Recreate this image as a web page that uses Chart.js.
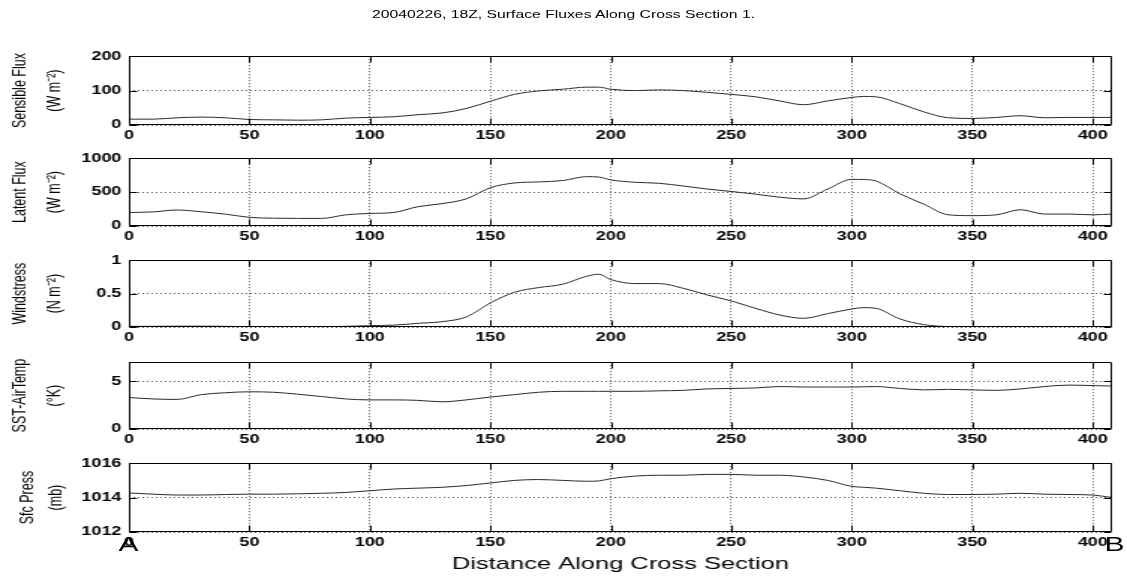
<!DOCTYPE html>
<html>
<head>
<meta charset="utf-8">
<script src="https://cdn.jsdelivr.net/npm/chart.js@4.4.1/dist/chart.umd.min.js"></script>
<style>
  html, body { margin: 0; padding: 0; background: #fff; overflow: hidden; }
  #stage {
    position: absolute; left: 0; top: 0; width: 752px; height: 578px;
    transform: scaleX(1.49867); transform-origin: 0 0;
    font-family: "Liberation Sans", Arial, sans-serif; color: #000;
  }
  .panel { position: absolute; left: 0; width: 752px; }
  #title { position: absolute; left: 0; width: 752px; top: 8px; text-align: center; font-size: 10.5px; line-height: 12px; }
  .end { position: absolute; font-size: 20px; line-height: 20px; }
</style>
</head>
<body>
<div id="stage">
  <div id="title">20040226, 18Z, Surface Fluxes Along Cross Section 1.</div>
  <div class="panel" id="p1"><canvas id="c1"></canvas></div>
  <div class="panel" id="p2"><canvas id="c2"></canvas></div>
  <div class="panel" id="p3"><canvas id="c3"></canvas></div>
  <div class="panel" id="p4"><canvas id="c4"></canvas></div>
  <div class="panel" id="p5"><canvas id="c5"></canvas></div>
  <div class="end" style="left:79px;top:534px;">A</div>
  <div class="end" style="left:737px;top:534px;">B</div>
</div>
<script>
// Distance along the cross section, shared by all five fields
const distance = [0,10,20,30,40,50,60,70,80,90,100,110,120,130,140,150,160,170,180,190,195,
                  200,210,220,230,240,250,260,270,280,290,300,305,310,320,330,340,350,360,370,380,390,400,408];

// Sensible heat flux (W m^-2)
const sensibleFlux = [17,17,21,23,21,16,15,14,15,20,22,24,30,35,48,69,89,99,104,110,110,
                      104,100,102,100,95,89,82,70,59,70,80,83,82,62,38,21,19,22,27,21,22,22,22];

// Latent heat flux (W m^-2)
const latentFlux = [199,208,236,210,175,128,115,112,112,165,185,200,285,330,400,565,635,650,670,728,722,
                    680,645,630,590,545,509,470,425,400,545,688,685,665,475,320,165,153,165,240,176,176,165,176];

// Wind stress (N m^-2)
const windStress = [0.01,0.01,0.012,0.012,0.01,0.005,0.005,0.005,0.005,0.01,0.02,0.028,0.055,0.08,0.15,0.36,0.52,0.59,0.64,0.76,0.79,
                    0.71,0.65,0.65,0.58,0.48,0.39,0.28,0.18,0.13,0.2,0.27,0.29,0.28,0.12,0.035,0.005,0,0,0.005,0.003,0,0,0];

// Sea surface minus air temperature (K)
const sstMinusAir = [3.3,3.15,3.1,3.6,3.8,3.9,3.85,3.65,3.4,3.15,3.05,3.05,3.0,2.85,3.05,3.35,3.6,3.85,3.95,3.95,3.95,
                     3.95,3.95,4.0,4.05,4.2,4.25,4.3,4.45,4.4,4.4,4.4,4.42,4.45,4.25,4.1,4.15,4.1,4.05,4.2,4.45,4.6,4.55,4.5];

// Surface pressure (mb)
const sfcPressure = [1014.27,1014.2,1014.15,1014.15,1014.18,1014.2,1014.2,1014.22,1014.25,1014.3,1014.4,1014.5,1014.55,1014.6,1014.7,1014.85,1015.0,1015.05,1015.0,1014.95,1014.97,
                     1015.1,1015.25,1015.3,1015.3,1015.35,1015.35,1015.3,1015.3,1015.2,1015.0,1014.65,1014.6,1014.55,1014.4,1014.25,1014.18,1014.18,1014.2,1014.25,1014.2,1014.18,1014.15,1014.0];

// Tick values
const distanceTicks = [0,50,100,150,200,250,300,350,400];
const sensibleTicks = [0,100,200];
const latentTicks = [0,500,1000];
const stressTicks = [0,0.5,1];
const tempTicks = [0,5];
const pressTicks = [1012,1014,1016];

const FONT = '"Liberation Sans", Arial, sans-serif';
const PLOT_LEFT = 86, PLOT_RIGHT = 742, STAGE_W = 752;

// Box outline plus inward-pointing tick marks on all four sides
const framePlugin = {
  id: 'frame',
  afterDatasetsDraw(chart) {
    const {ctx, chartArea: a, scales: {x, y}} = chart;
    const L = Math.round(a.left) + 0.5, R = Math.round(a.right) - 0.5;
    const T = Math.round(a.top) + 0.5, B = Math.round(a.bottom) - 0.5;
    ctx.save();
    ctx.strokeStyle = '#000';
    ctx.lineWidth = 1;
    ctx.setLineDash([]);
    ctx.beginPath();
    ctx.rect(L, T, R - L, B - T);
    x.ticks.forEach(t => {
      const px = Math.round(x.getPixelForValue(t.value)) + 0.5;
      ctx.moveTo(px, B); ctx.lineTo(px, B - 6);
      ctx.moveTo(px, T); ctx.lineTo(px, T + 6);
    });
    y.ticks.forEach(t => {
      const py = Math.round(y.getPixelForValue(t.value)) + 0.5;
      ctx.moveTo(L, py); ctx.lineTo(L + 5, py);
      ctx.moveTo(R, py); ctx.lineTo(R - 5, py);
    });
    ctx.stroke();
    ctx.restore();
  }
};

function makePanel(canvasId, wrapId, spec) {
  const padTop = 8;
  const plotH = spec.bottom - spec.top;
  const canvasTop = spec.top - padTop;
  const canvasH = padTop + plotH + spec.below;
  const wrap = document.getElementById(wrapId);
  wrap.style.top = canvasTop + 'px';
  wrap.style.height = canvasH + 'px';
  const cv = document.getElementById(canvasId);
  cv.width = STAGE_W; cv.height = canvasH;
  cv.style.width = STAGE_W + 'px'; cv.style.height = canvasH + 'px';

  const xTitle = spec.xTitle ? {
    display: true, text: spec.xTitle, color: '#000',
    font: {family: FONT, size: 17, lineHeight: 1.2}, padding: {top: 0, bottom: 3}
  } : {display: false};

  return new Chart(cv, {
    type: 'line',
    data: {
      datasets: [{
        data: distance.map((d, i) => ({x: d, y: spec.values[i]})),
        borderColor: '#2a2a2a', borderWidth: 1, pointRadius: 0,
        cubicInterpolationMode: 'monotone', fill: false
      }]
    },
    options: {
      responsive: false, animation: false, events: [],
      layout: {padding: {top: padTop, left: 0, right: STAGE_W - PLOT_RIGHT, bottom: 0}},
      plugins: {legend: {display: false}, tooltip: {enabled: false}},
      scales: {
        x: {
          type: 'linear', min: 0, max: 408,
          afterBuildTicks: s => { s.ticks = distanceTicks.map(v => ({value: v})); },
          afterFit: s => { s.height = spec.below; },
          ticks: {color: '#000', padding: 3, maxRotation: 0, autoSkip: false,
                  font: {family: FONT, size: 12, weight: 'bold'}, callback: v => String(v)},
          grid: {color: '#555', lineWidth: 1, drawTicks: false},
          border: {display: false, dash: [1, 2]},
          title: xTitle
        },
        y: {
          type: 'linear', min: spec.min, max: spec.max,
          afterBuildTicks: s => { s.ticks = spec.ticks.map(v => ({value: v})); },
          afterFit: s => { s.width = PLOT_LEFT; },
          ticks: {color: '#000', padding: 5, autoSkip: false,
                  font: {family: FONT, size: 12, weight: 'bold'}, callback: v => String(v)},
          grid: {color: '#555', lineWidth: 1, drawTicks: false},
          border: {display: false, dash: [1, 2]},
          title: {
            display: true, text: spec.label, color: '#000',
            font: {family: FONT, size: 12.5, lineHeight: spec.lh + 'px'},
            padding: {top: spec.pad, bottom: 0}
          }
        }
      }
    },
    plugins: [framePlugin]
  });
}

makePanel('c1', 'p1', {top: 52, bottom: 125, below: 21, values: sensibleFlux, min: 0, max: 200,
  ticks: sensibleTicks, label: ['Sensible Flux', '(W m\u207B\u00B2)'], lh: 23.3, pad: 1.7});
makePanel('c2', 'p2', {top: 154, bottom: 226, below: 21, values: latentFlux, min: 0, max: 1000,
  ticks: latentTicks, label: ['Latent Flux', '(W m\u207B\u00B2)'], lh: 23.3, pad: 1.7});
makePanel('c3', 'p3', {top: 256, bottom: 327, below: 21, values: windStress, min: 0, max: 1,
  ticks: stressTicks, label: ['Windstress', '(N m\u207B\u00B2)'], lh: 23.3, pad: 1.7});
makePanel('c4', 'p4', {top: 358, bottom: 429, below: 21, values: sstMinusAir, min: 0, max: 7,
  ticks: tempTicks, label: ['SST-AirTemp', '(\u00B0K)'], lh: 23.3, pad: 1.7});
makePanel('c5', 'p5', {top: 459, bottom: 532, below: 46, values: sfcPressure, min: 1012, max: 1016,
  ticks: pressTicks, label: ['Sfc Press', '(mb)'], lh: 19.3, pad: 9,
  xTitle: 'Distance Along Cross Section'});
</script>
</body>
</html>
